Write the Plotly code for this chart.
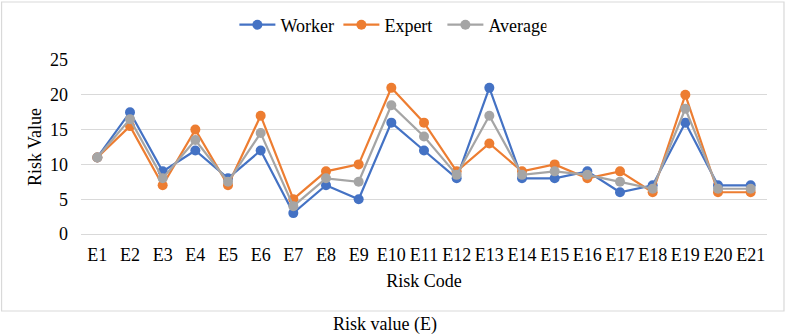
import plotly.graph_objects as go

categories = [f"E{i}" for i in range(1, 22)]
worker = [11, 17.5, 9, 12, 8, 12, 3, 7, 5, 16, 12, 8, 21, 8, 8, 9, 6, 7, 16, 7, 7]
expert = [11, 15.5, 7, 15, 7, 17, 5, 9, 10, 21, 16, 9, 13, 9, 10, 8, 9, 6, 20, 6, 6]
average = [11, 16.5, 8, 13.5, 7.5, 14.5, 4, 8, 7.5, 18.5, 14, 8.5, 17, 8.5, 9, 8.5, 7.5, 6.5, 18, 6.5, 6.5]
yticks = [0, 5, 10, 15, 20, 25]

FONT = "Liberation Serif, Times New Roman, serif"
FS = 18
series = [("Worker", worker, "#4472C4"), ("Expert", expert, "#ED7D31"), ("Average", average, "#A5A5A5")]

fig = go.Figure()
for name, vals, col in series:
    fig.add_trace(go.Scatter(x=categories, y=vals, name=name, mode="lines+markers",
                             line=dict(color=col, width=2.2),
                             marker=dict(color=col, size=10)))

L, R, T, B = 80.5, 767, 60, 234
W, H = 787, 335
pw, ph = R - L, B - T
def px(x): return (x - L) / pw
def py(y): return (B - y) / ph

fig.update_layout(
    width=W, height=H,
    margin=dict(l=L, r=W - R, t=T, b=H - B, autoexpand=False),
    paper_bgcolor="white", plot_bgcolor="white",
    font=dict(family=FONT, size=FS, color="#000000"),
    showlegend=True,
    legend=dict(orientation="h", x=px(234), xanchor="left", y=py(25), yanchor="middle",
                font=dict(family=FONT, size=FS), traceorder="normal",
                entrywidth=53, entrywidthmode="pixels", itemwidth=36,
                bgcolor="rgba(0,0,0,0)"),
    xaxis=dict(title=dict(text="Risk Code", font=dict(family=FONT, size=FS), standoff=10),
               showgrid=False, showline=False, ticks="", tickfont=dict(family=FONT, size=FS),
               range=[-0.5, 20.5], automargin=False, ticklabelstandoff=8),
    yaxis=dict(title=dict(text="Risk Value", font=dict(family=FONT, size=FS), standoff=3),
               range=[0, 25], tickvals=yticks, showgrid=True, gridcolor="#D9D9D9", gridwidth=1.2,
               zeroline=True, zerolinecolor="#D9D9D9", zerolinewidth=1.2, showline=False,
               tickfont=dict(family=FONT, size=FS), ticks="", ticklabelstandoff=12,
               automargin=False),
    shapes=[dict(type="rect", xref="paper", yref="paper",
                 x0=px(1), x1=px(784), y0=py(311), y1=py(2),
                 line=dict(color="#D9D9D9", width=1.2), fillcolor="rgba(0,0,0,0)", layer="below")],
    annotations=[dict(text="Risk value (E)", xref="paper", yref="paper", x=px(385), y=py(324),
                      xanchor="center", yanchor="middle", showarrow=False,
                      font=dict(family=FONT, size=FS))],
)

fig.write_html("out.html", config={"displayModeBar": False},
               post_script="document.body.style.margin='0';document.body.style.overflow='hidden';")
